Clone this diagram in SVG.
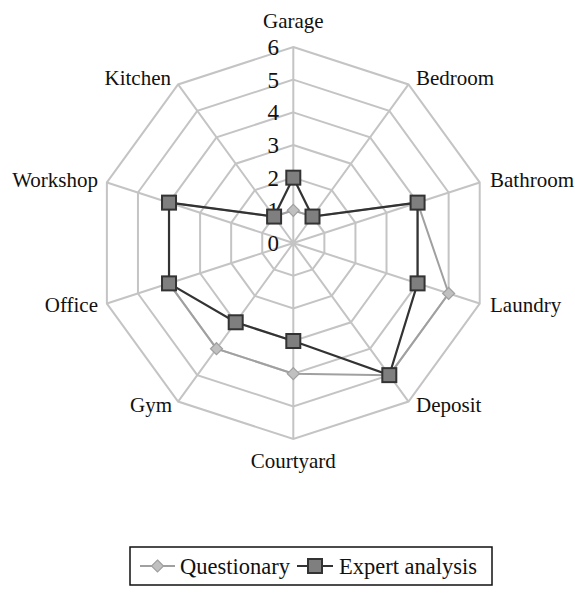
<svg xmlns="http://www.w3.org/2000/svg" width="575" height="601" viewBox="0 0 575 601">
<style>
.grid{fill:none;stroke:#c4c4c4;stroke-width:2}
.lbl{font-size:21px;fill:#111}
.num{font-size:23px;fill:#111;text-anchor:end}
.leg{font-size:22.5px;fill:#111}
.qline{fill:none;stroke:#a0a0a0;stroke-width:2}
.eline{fill:none;stroke:#333;stroke-width:2.2}
</style>
<defs>
<marker id="dia" markerWidth="16" markerHeight="16" refX="8" refY="8" markerUnits="userSpaceOnUse">
<path d="M8 2 L14 8 L8 14 L2 8 Z" fill="#c0c0c0" stroke="#a0a0a0" stroke-width="1.2"/>
</marker>
<marker id="sq" markerWidth="18" markerHeight="18" refX="9" refY="9" markerUnits="userSpaceOnUse">
<rect x="2" y="2" width="14" height="14" fill="#7f7f7f" stroke="#333" stroke-width="2"/>
</marker>
</defs>
<g id="grid">
<polygon class="grid" points="293.3,210.33 312.5,216.57 324.37,232.91 324.37,253.09 312.5,269.43 293.3,275.67 274.1,269.43 262.23,253.09 262.23,232.91 274.1,216.57"/>
<polygon class="grid" points="293.3,177.67 331.7,190.14 355.44,222.81 355.44,263.19 331.7,295.86 293.3,308.33 254.9,295.86 231.16,263.19 231.16,222.81 254.9,190.14"/>
<polygon class="grid" points="293.3,145 350.9,163.72 386.51,212.72 386.51,273.28 350.9,322.28 293.3,341 235.7,322.28 200.09,273.28 200.09,212.72 235.7,163.72"/>
<polygon class="grid" points="293.3,112.33 370.11,137.29 417.58,202.62 417.58,283.38 370.11,348.71 293.3,373.67 216.49,348.71 169.02,283.38 169.02,202.62 216.49,137.29"/>
<polygon class="grid" points="293.3,79.67 389.31,110.86 448.64,192.53 448.64,293.47 389.31,375.14 293.3,406.33 197.29,375.14 137.96,293.47 137.96,192.53 197.29,110.86"/>
<polygon class="grid" points="293.3,47 408.51,84.44 479.71,182.44 479.71,303.56 408.51,401.56 293.3,439 178.09,401.56 106.89,303.56 106.89,182.44 178.09,84.44"/>
<path class="grid" d="M293.3 243 L293.3 47 M293.3 243 L408.51 84.44 M293.3 243 L479.71 182.44 M293.3 243 L479.71 303.56 M293.3 243 L408.51 401.56 M293.3 243 L293.3 439 M293.3 243 L178.09 401.56 M293.3 243 L106.89 303.56 M293.3 243 L106.89 182.44 M293.3 243 L178.09 84.44"/>
</g>
<g font-family="'Liberation Serif', 'Times New Roman', Times, 'DejaVu Serif', serif">
<g id="scale">
<text class="num" x="279" y="251">0</text>
<text class="num" x="279" y="218.3">1</text>
<text class="num" x="279" y="185.7">2</text>
<text class="num" x="279" y="153">3</text>
<text class="num" x="279" y="120.3">4</text>
<text class="num" x="279" y="87.7">5</text>
<text class="num" x="279" y="55">6</text>
</g>
<g id="axis-labels">
<text class="lbl" x="293.3" y="28" text-anchor="middle">Garage</text>
<text class="lbl" x="416" y="85">Bedroom</text>
<text class="lbl" x="490" y="187">Bathroom</text>
<text class="lbl" x="490" y="312">Laundry</text>
<text class="lbl" x="416" y="412">Deposit</text>
<text class="lbl" x="293.3" y="468" text-anchor="middle">Courtyard</text>
<text class="lbl" x="172" y="412" text-anchor="end">Gym</text>
<text class="lbl" x="98" y="312" text-anchor="end">Office</text>
<text class="lbl" x="98" y="187" text-anchor="end">Workshop</text>
<text class="lbl" x="171" y="85" text-anchor="end">Kitchen</text>
</g>
</g>
<g id="connectors">
<polygon id="questionary" class="qline" marker-start="url(#dia)" marker-mid="url(#dia)" points="293.3,210.33 312.5,216.57 417.58,202.62 448.64,293.47 389.31,375.14 293.3,373.67 216.49,348.71 169.02,283.38 169.02,202.62 274.1,216.57"/>
<polygon id="expert" class="eline" marker-start="url(#sq)" marker-mid="url(#sq)" points="293.3,177.67 312.5,216.57 417.58,202.62 417.58,283.38 389.31,375.14 293.3,341 235.7,322.28 169.02,283.38 169.02,202.62 274.1,216.57"/>
</g>
<g id="legend" font-family="'Liberation Serif', 'Times New Roman', Times, 'DejaVu Serif', serif">
<rect x="130" y="547" width="362" height="38" fill="#fff" stroke="#111" stroke-width="1.5"/>
<path class="qline" d="M140 566 L175 566"/>
<path d="M157.5 560 L163.5 566 L157.5 572 L151.5 566 Z" fill="#c0c0c0" stroke="#a0a0a0" stroke-width="1.2"/>
<text class="leg" x="180" y="574">Questionary</text>
<path class="eline" d="M297 566 L333 566"/>
<rect x="308" y="559" width="14" height="14" fill="#7f7f7f" stroke="#333" stroke-width="2"/>
<text class="leg" x="339" y="574">Expert analysis</text>
</g>
</svg>
